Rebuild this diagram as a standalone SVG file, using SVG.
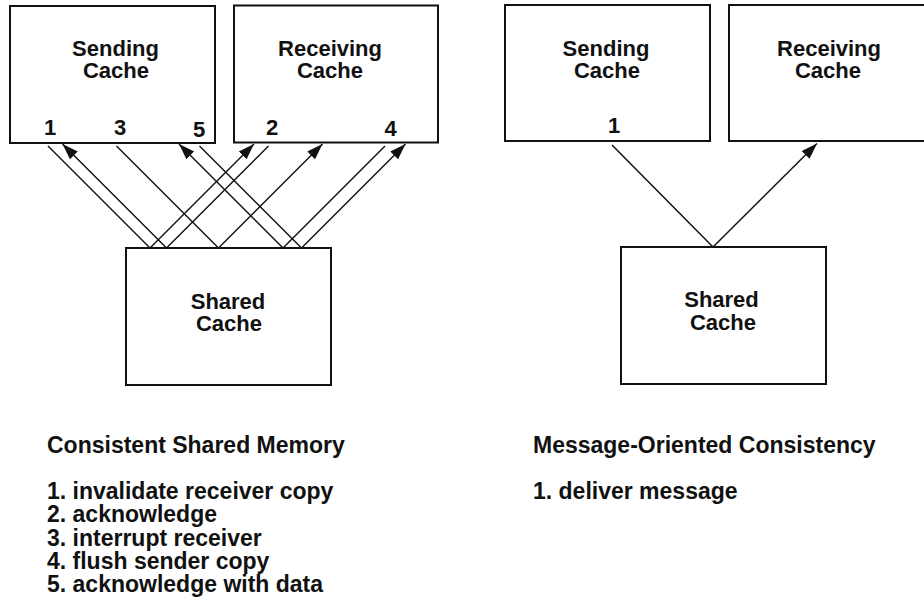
<svg xmlns="http://www.w3.org/2000/svg" width="924" height="597" viewBox="0 0 924 597">
<style>
.box{fill:#fff;stroke:#111;stroke-width:2}
.lbl{font-family:"Liberation Sans",Arial,sans-serif;font-weight:bold;font-size:22px;fill:#111;text-anchor:middle}
.num{font-family:"Liberation Sans",Arial,sans-serif;font-weight:bold;font-size:22px;fill:#111;text-anchor:middle}
.txt{font-family:"Liberation Sans",Arial,sans-serif;font-weight:bold;font-size:23px;fill:#111}
.ln{stroke:#111;stroke-width:1.5;fill:none}
.ar{stroke:#111;stroke-width:1.5;fill:none;marker-end:url(#ah)}
</style>
<defs>
<marker id="ah" markerUnits="userSpaceOnUse" markerWidth="20" markerHeight="14" refX="16" refY="6" orient="auto" viewBox="0 0 20 12">
<path d="M0,0.5 L16,6 L0,11.5 z" fill="#111"/>
</marker>
</defs>
<rect width="924" height="597" fill="#fff"/>

<g id="left-sending">
<rect class="box" x="10" y="6" width="205" height="137"/>
<text class="lbl" x="115.5" y="56">Sending</text>
<text class="lbl" x="116" y="78">Cache</text>
<text class="num" x="50" y="135">1</text>
<text class="num" x="120" y="135">3</text>
<text class="num" x="199" y="137">5</text>
</g>
<g id="left-receiving">
<rect class="box" x="234" y="5.5" width="204" height="137"/>
<text class="lbl" x="330" y="56">Receiving</text>
<text class="lbl" x="330" y="78">Cache</text>
<text class="num" x="272" y="135">2</text>
<text class="num" x="390.5" y="136">4</text>
</g>
<g id="left-shared">
<rect class="box" x="126" y="248" width="205" height="137"/>
<text class="lbl" x="228" y="309">Shared</text>
<text class="lbl" x="229" y="331">Cache</text>
</g>

<g id="right-sending">
<rect class="box" x="505" y="5" width="205" height="136"/>
<text class="lbl" x="606" y="56">Sending</text>
<text class="lbl" x="607" y="78">Cache</text>
<text class="num" x="614" y="133">1</text>
</g>
<g id="right-receiving">
<rect class="box" x="729" y="5" width="220" height="136"/>
<text class="lbl" x="829" y="56">Receiving</text>
<text class="lbl" x="828" y="78">Cache</text>
</g>
<g id="right-shared">
<rect class="box" x="621" y="247" width="205" height="137"/>
<text class="lbl" x="721.5" y="307">Shared</text>
<text class="lbl" x="723" y="330">Cache</text>
</g>

<g id="connectors">
<line class="ln" x1="150" y1="248" x2="48" y2="146"/>
<line class="ar" x1="166.5" y1="248" x2="62.5" y2="144"/>
<line class="ln" x1="218.5" y1="248" x2="116.5" y2="146"/>
<line class="ar" x1="283" y1="248" x2="179" y2="144"/>
<line class="ln" x1="301.5" y1="248" x2="199.5" y2="146"/>
<line class="ar" x1="150" y1="248" x2="254" y2="144"/>
<line class="ln" x1="166.5" y1="248" x2="268.5" y2="146"/>
<line class="ar" x1="218.5" y1="248" x2="322.5" y2="144"/>
<line class="ln" x1="283" y1="248" x2="385" y2="146"/>
<line class="ar" x1="301.5" y1="248" x2="405.5" y2="144"/>
<line class="ln" x1="713" y1="247" x2="612" y2="145"/>
<line class="ar" x1="713" y1="247" x2="817" y2="143.5"/>
</g>

<g id="legend-left">
<text class="txt" x="47" y="453">Consistent Shared Memory</text>
<text class="txt" x="47" y="499">1. invalidate receiver copy</text>
<text class="txt" x="47" y="522">2. acknowledge</text>
<text class="txt" x="47" y="545.5">3. interrupt receiver</text>
<text class="txt" x="47" y="569">4. flush sender copy</text>
<text class="txt" x="47" y="592">5. acknowledge with data</text>
</g>
<g id="legend-right">
<text class="txt" x="533" y="453">Message-Oriented Consistency</text>
<text class="txt" x="533" y="499">1. deliver message</text>
</g>
</svg>
